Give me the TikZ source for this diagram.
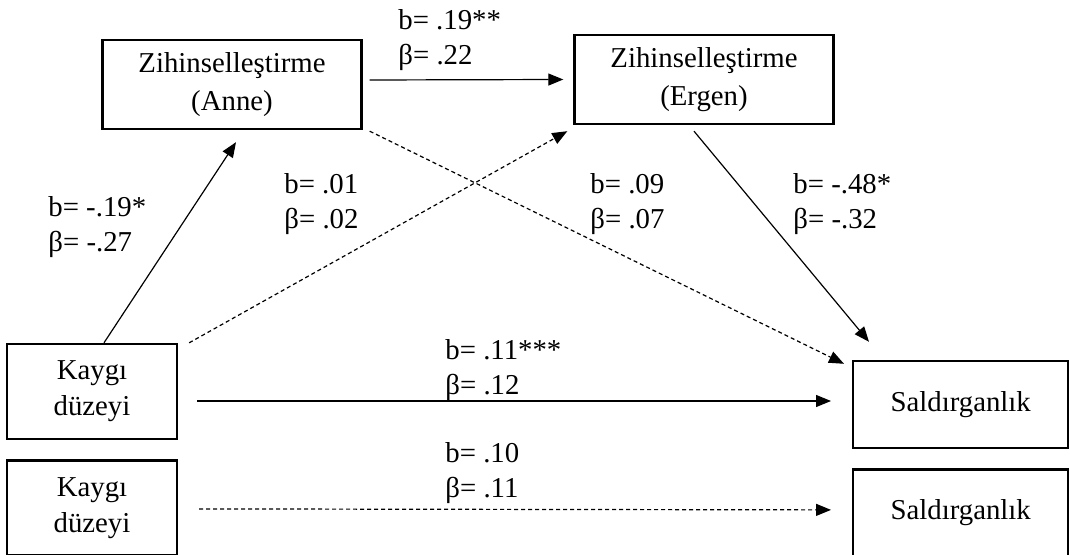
\documentclass[tikz,border=0pt]{standalone}
\usepackage{fontspec}
\setmainfont{Liberation Serif}
\usepackage{tikz}
\usetikzlibrary{arrows.meta,positioning,calc}

\begin{document}
\begin{tikzpicture}[x=0.5pt,y=-0.5pt,
  mediator/.style={draw,line width=1.2pt,align=center,inner sep=0pt,minimum width=129.5pt,minimum height=44.5pt,font=\fontsize{14.4}{19}\selectfont},
  predictor/.style={draw,line width=1.2pt,align=center,inner sep=0pt,minimum width=85pt,minimum height=47.5pt,font=\fontsize{14.4}{18}\selectfont},
  outcome/.style={draw,line width=1.2pt,align=center,inner sep=0pt,minimum width=107.5pt,minimum height=43.5pt,font=\fontsize{14.4}{18}\selectfont},
  coef/.style={anchor=base west,align=left,inner sep=0pt,font=\fontsize{14.4}{17.5}\selectfont},
  path/.style={->,line width=0.6pt},
  nspath/.style={->,line width=0.6pt,dash pattern=on 2pt off 1.5pt},
  >={Triangle[length=7.5pt,width=6pt]},node distance=9.5pt]
  \useasboundingbox (0,0) rectangle (1070,555);

  % boxes
  \node[mediator] (anne) at (232,84.5) {Zihinselleştirme\\(Anne)};
  \node[mediator] (ergen) at (704,79.5) {Zihinselleştirme\\(Ergen)};
  \node[predictor] (kaygi) at (92,391.5) {Kaygı\\düzeyi};
  \node[predictor,below=of kaygi] (kaygitot) {Kaygı\\düzeyi};
  \node[outcome] (sald) at (960.7,404.5) {Saldırganlık};
  \node[outcome,below=of sald] (saldtot) {Saldırganlık};

  % paths
  \draw[path] ($(anne.east)+(7,-4.5)$) -- ($(ergen.west)+(-10,0)$);
  \draw[path] ($(kaygi.north)+(12,0)$) -- ($(anne.south)+(4,12)$);
  \draw[nspath] ($(kaygi.north east)+(11,0)$) -- ($(ergen.south west)+(-6,6)$);
  \draw[nspath] ($(anne.south east)+(7,1)$) -- ($(sald.north west)+(-8,4)$);
  \draw[path] ($(ergen.south)+(-10,6)$) -- ($(sald.north west)+(17,-18)$);
  \draw[path] ($(kaygi.east)+(19,9.5)$) -- ($(sald.west)+(-21,-3.5)$);
  \draw[nspath] ($(kaygitot.east)+(21,1)$) -- ($(saldtot.west)+(-21,-3)$);

  % coefficients (placed at the baseline of the second line)
  \node[coef] (c1) at (398,65) {b= .19**\\β= .22};
  \node[coef] (c2) at (284,229) {b= .01\\β= .02};
  \node[coef] (c3) at (48,252) {b= -.19*\\β= -.27};
  \node[coef] (c4) at (590,229) {b= .09\\β= .07};
  \node[coef] (c5) at (793,229) {b= -.48*\\β= -.32};
  \node[coef] (c6) at (445,394) {b= .11***\\β= .12};
  \node[coef] (c7) at (445,497) {b= .10\\β= .11};
\end{tikzpicture}
\end{document}
